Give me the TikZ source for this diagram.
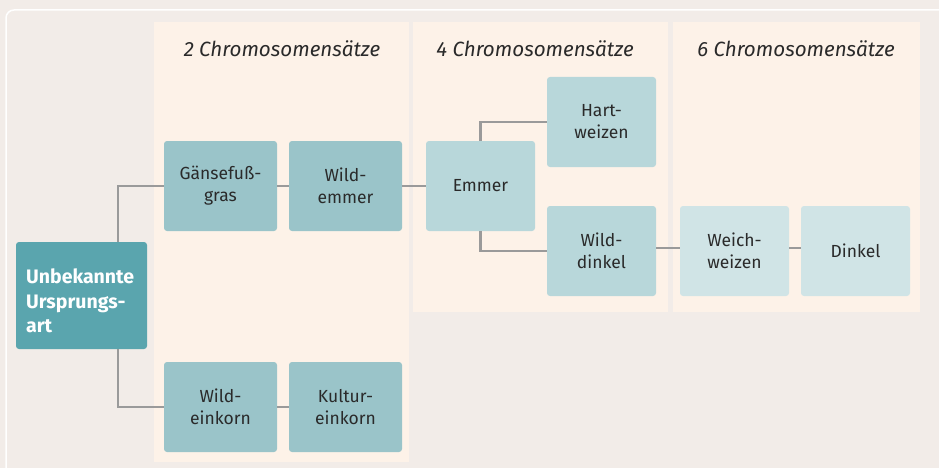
\documentclass[tikz,border=0pt]{standalone}
\usepackage{fontspec}
\setmainfont{Fira Sans}
\begin{document}
\begin{tikzpicture}[x=1pt,y=-1pt,
  box/.style={draw=none, rounded corners=3pt, align=center, font=\fontsize{17.5}{22}\selectfont, text=textc, inner sep=0pt},
  dark/.style={box, fill=darkc, minimum width=113pt, minimum height=90pt},
  mid/.style={box, fill=midc, minimum width=109pt, minimum height=90pt},
  light/.style={box, fill=lightc, minimum width=109pt, minimum height=90pt},
  conn/.style={draw=connc, line width=2.2pt},
  head/.style={font=\fontsize{20.6}{24}\selectfont\itshape, text=textc}]
\definecolor{bgc}{HTML}{F2ECE8}
\definecolor{panelc}{HTML}{FDF2E8}
\definecolor{rootc}{HTML}{5AA5AE}
\definecolor{darkc}{HTML}{9AC4C9}
\definecolor{midc}{HTML}{B8D7DA}
\definecolor{lightc}{HTML}{D0E4E6}
\definecolor{connc}{HTML}{9A9A9A}
\definecolor{textc}{HTML}{2A2A2A}
\useasboundingbox (0,0) rectangle (939,468);
\fill[bgc] (0,0) rectangle (939,468);
\draw[white, line width=1.5pt, rounded corners=8pt] (6,468) -- (6,10) -- (939,10);
% panels
\fill[panelc] (154,22) rectangle (409,462);
\fill[panelc] (413,22) rectangle (668,312);
\fill[panelc] (673,22) rectangle (920,312);
\node[head] (h2) at (282,49) {2 Chromosomensätze};
\node[head] (h4) at (535,49) {4 Chromosomensätze};
\node[head] (h6) at (796,49) {6 Chromosomensätze};
% nodes
\node[box, fill=rootc, minimum width=131pt, minimum height=107pt] (root) at (81.5,295.5) {};
\node[anchor=west, inner sep=0pt, align=left, text=white, font=\fontsize{19.5}{24.5}\selectfont\bfseries] (rootlabel) at (26,301) {Unbekannte\\Ursprungs-\\art};
\node[dark] (gans) at (220.5,186) {Gänsefuß-\\gras};
\node[dark] (wemmer) at (345.5,186) {Wild-\\emmer};
\node[dark] (weink) at (220.5,407) {Wild-\\einkorn};
\node[dark] (keink) at (345.5,407) {Kultur-\\einkorn};
\node[mid] (emmer) at (480.5,186) {Emmer};
\node[mid] (hart) at (601.5,122) {Hart-\\weizen};
\node[mid] (wdinkel) at (601.5,251) {Wild-\\dinkel};
\node[light] (weich) at (734.5,251) {Weich-\\weizen};
\node[light] (dinkel) at (855.5,251) {Dinkel};
% connectors
\draw[conn] (root.north -| 118,0) |- (gans.west);
\draw[conn] (root.south -| 118,0) |- (weink.west);
\draw[conn] (gans) -- (wemmer);
\draw[conn] (wemmer) -- (emmer);
\draw[conn] (weink) -- (keink);
\draw[conn] (emmer.south) |- (wdinkel.west);
\draw[conn] (emmer.north) |- (hart.west);
\draw[conn] ([yshift=3pt]wdinkel.east) -- ([yshift=3pt]weich.west);
\draw[conn] ([yshift=3pt]weich.east) -- ([yshift=3pt]dinkel.west);
\end{tikzpicture}
\end{document}
